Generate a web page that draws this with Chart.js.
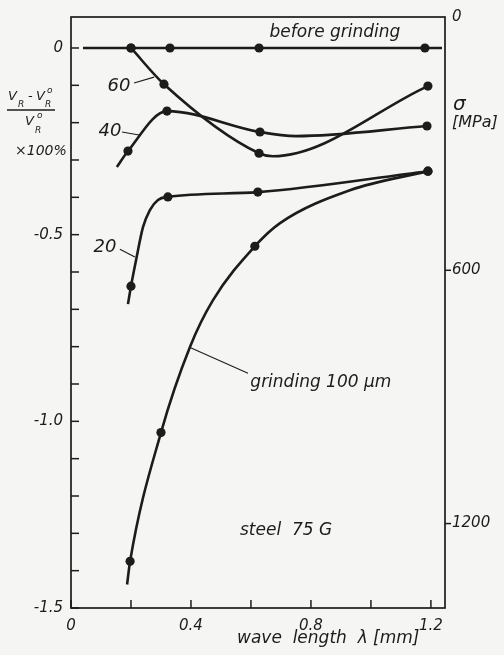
<!DOCTYPE html>
<html><head><meta charset="utf-8">
<script src="https://cdn.jsdelivr.net/npm/chart.js@4/dist/chart.umd.min.js"></script>
<style>
html,body{margin:0;padding:0;background:#f5f5f3;}
#wrap{width:504px;height:655px;position:relative;}
canvas{display:block;}
</style>
</head><body>
<div id="wrap"><canvas id="c" width="504" height="655"></canvas></div>
<script>
// ---- data (wave length λ [mm], relative change of Rayleigh velocity) ----
const beforeX = [0.04, 0.2, 0.33, 0.627, 1.18, 1.237];
const beforeY = [0, 0, 0, 0, 0, 0];
const beforeDot = [false, true, true, true, true, false];

const s60X = [0.2, 0.31, 0.627, 0.673, 1.19];
const s60Y = [0, -0.097, -0.282, -0.29, -0.102];
const s60Dot = [true, true, true, false, true];

const s40X = [0.153, 0.19, 0.32, 0.63, 0.75, 1.187];
const s40Y = [-0.319, -0.276, -0.169, -0.225, -0.236, -0.209];
const s40Dot = [false, true, true, true, false, true];

const s20X = [0.19, 0.2, 0.217, 0.24, 0.263, 0.29, 0.323, 0.623, 1.19];
const s20Y = [-0.686, -0.638, -0.568, -0.48, -0.434, -0.407, -0.399, -0.386, -0.33];
const s20Dot = [false, true, false, false, false, false, true, true, true];

const grindX = [0.187, 0.197, 0.3, 0.397, 0.473, 0.613, 0.697, 0.93, 1.19];
const grindY = [-1.437, -1.375, -1.03, -0.80, -0.676, -0.531, -0.469, -0.381, -0.33];
const grindDot = [false, true, true, false, false, true, false, false, true];

const xTickValues = [0, 0.4, 0.8, 1.2];
const xTickLabels = ['0', '0.4', '0.8', '1.2'];
const yTickValues = [0, -0.5, -1.0, -1.5];
const yTickLabels = ['0', '-0.5', '-1.0', '-1.5'];
const rightTickValues = [0, 600, 1200];
const rightTickLabels = ['0', '600', '1200'];

// ---- styling ----
const ink = '#1c1c1c';
const FAM = '"DejaVu Sans", sans-serif';
const tickFont = {family: FAM, size: 15, style: 'italic'};

function series(xs, ys, dots) {
  return {
    data: xs.map((x, i) => ({x: x, y: ys[i]})),
    showLine: true,
    borderColor: ink,
    backgroundColor: ink,
    pointBackgroundColor: ink,
    pointBorderWidth: 0,
    borderWidth: 2.6,
    pointRadius: dots.map(d => d ? 4.6 : 0),
    pointHoverRadius: dots.map(d => d ? 4.6 : 0),
    cubicInterpolationMode: 'monotone',
    fill: false
  };
}

function lbl(arrV, arrL, v) {
  const r = Math.round(v * 10) / 10;
  const i = arrV.findIndex(a => Math.abs(a - r) < 1e-6);
  return i >= 0 ? arrL[i] : '';
}

const deco = {
  id: 'deco',
  afterDraw(chart) {
    const {ctx, chartArea: a, scales} = chart;
    const X = scales.x, Y = scales.y, Y2 = scales.y2;
    const px = v => X.getPixelForValue(v), py = v => Y.getPixelForValue(v);
    ctx.save();
    ctx.strokeStyle = ink; ctx.fillStyle = ink;
    // frame
    ctx.lineWidth = 1.7;
    ctx.strokeRect(a.left, a.top, a.right - a.left, a.bottom - a.top);
    // inward ticks
    ctx.lineWidth = 1.5;
    X.ticks.forEach(t => {
      const p = px(t.value);
      ctx.beginPath(); ctx.moveTo(p, a.bottom); ctx.lineTo(p, a.bottom - 8); ctx.stroke();
    });
    Y.ticks.forEach(t => {
      const p = py(t.value);
      ctx.beginPath(); ctx.moveTo(a.left, p); ctx.lineTo(a.left + 8, p); ctx.stroke();
    });
    Y2.ticks.forEach(t => {
      if (t.value === 0) return;
      const p = Y2.getPixelForValue(t.value);
      ctx.beginPath(); ctx.moveTo(a.right, p); ctx.lineTo(a.right + 6, p); ctx.stroke();
    });
    // leader lines
    ctx.lineWidth = 1.1;
    const lead = (x1, y1, x2, y2) => { ctx.beginPath(); ctx.moveTo(px(x1), py(y1)); ctx.lineTo(px(x2), py(y2)); ctx.stroke(); };
    lead(0.21, -0.094, 0.277, -0.078);
    lead(0.17, -0.225, 0.227, -0.233);
    lead(0.163, -0.539, 0.213, -0.56);
    lead(0.397, -0.802, 0.59, -0.871);
    // texts
    const txt = (s, x, y, size, align, base) => {
      ctx.font = 'italic ' + size + 'px ' + FAM;
      ctx.textAlign = align || 'center'; ctx.textBaseline = base || 'middle';
      ctx.fillText(s, x, y);
    };
    txt('before grinding', px(0.88), py(0.0295), 17, 'center', 'alphabetic');
    txt('60', px(0.16), py(-0.102), 18);
    txt('40', px(0.13), py(-0.2225), 18);
    txt('20', px(0.113), py(-0.533), 18);
    txt('grinding 100 µm', px(0.833), py(-0.895), 17);
    txt('steel  75 G', px(0.717), py(-1.292), 17);
    // x title
    txt('wave  length  λ [mm]', 237, 639, 17, 'left');
    // right title
    txt('σ', a.right + 8, py(-0.153), 20, 'left');
    txt('[MPa]', a.right + 7, py(-0.201), 16, 'left');
    // left title: (V_R - V_R^o)/V_R^o ×100%
    const V = 13, S = 9;
    txt('V', 8, 100, V, 'left', 'alphabetic');
    txt('R', 18, 107, S, 'left', 'alphabetic');
    txt('-', 28, 100, V, 'left', 'alphabetic');
    txt('V', 36, 100, V, 'left', 'alphabetic');
    txt('R', 45, 107, S, 'left', 'alphabetic');
    txt('o', 47, 93, S, 'left', 'alphabetic');
    ctx.lineWidth = 1.4;
    ctx.beginPath(); ctx.moveTo(7, 110); ctx.lineTo(55, 110); ctx.stroke();
    txt('V', 25, 125, V, 'left', 'alphabetic');
    txt('R', 35, 133, S, 'left', 'alphabetic');
    txt('o', 37, 118, S, 'left', 'alphabetic');
    txt('×100%', 15, 151, 14, 'left', 'middle');
    ctx.restore();
  }
};

new Chart(document.getElementById('c'), {
  type: 'scatter',
  data: {
    datasets: [
      series(beforeX, beforeY, beforeDot),
      series(s60X, s60Y, s60Dot),
      series(s40X, s40Y, s40Dot),
      series(s20X, s20Y, s20Dot),
      series(grindX, grindY, grindDot)
    ]
  },
  options: {
    responsive: false,
    animation: false,
    devicePixelRatio: 1,
    layout: {padding: {top: 17, left: 0, right: 0, bottom: 0}},
    plugins: {legend: {display: false}, tooltip: {enabled: false}},
    scales: {
      x: {
        type: 'linear', min: 0, max: 1.247,
        grid: {display: false, drawTicks: false}, border: {display: false},
        ticks: {stepSize: 0.2, includeBounds: false, autoSkip: false, maxRotation: 0,
          padding: 9, color: ink, font: tickFont,
          callback: v => lbl(xTickValues, xTickLabels, v)},
        afterFit: s => { s.height = 47; }
      },
      y: {
        type: 'linear', min: -1.5, max: 0.083,
        grid: {display: false, drawTicks: false}, border: {display: false},
        ticks: {stepSize: 0.1, includeBounds: false, autoSkip: false,
          padding: 8, color: ink, font: tickFont,
          callback: v => lbl(yTickValues, yTickLabels, v)},
        afterFit: s => { s.width = 71; }
      },
      y2: {
        type: 'linear', position: 'right', reverse: true, min: 0, max: 1400,
        grid: {display: false, drawTicks: false}, border: {display: false},
        ticks: {autoSkip: false, padding: 7, color: ink, font: tickFont,
          callback: v => { const i = rightTickValues.indexOf(v); return i >= 0 ? rightTickLabels[i] : ''; }},
        afterBuildTicks: s => { s.ticks = rightTickValues.map(v => ({value: v})); },
        afterFit: s => { s.width = 59; }
      }
    }
  },
  plugins: [deco]
});
</script>
</body></html>
